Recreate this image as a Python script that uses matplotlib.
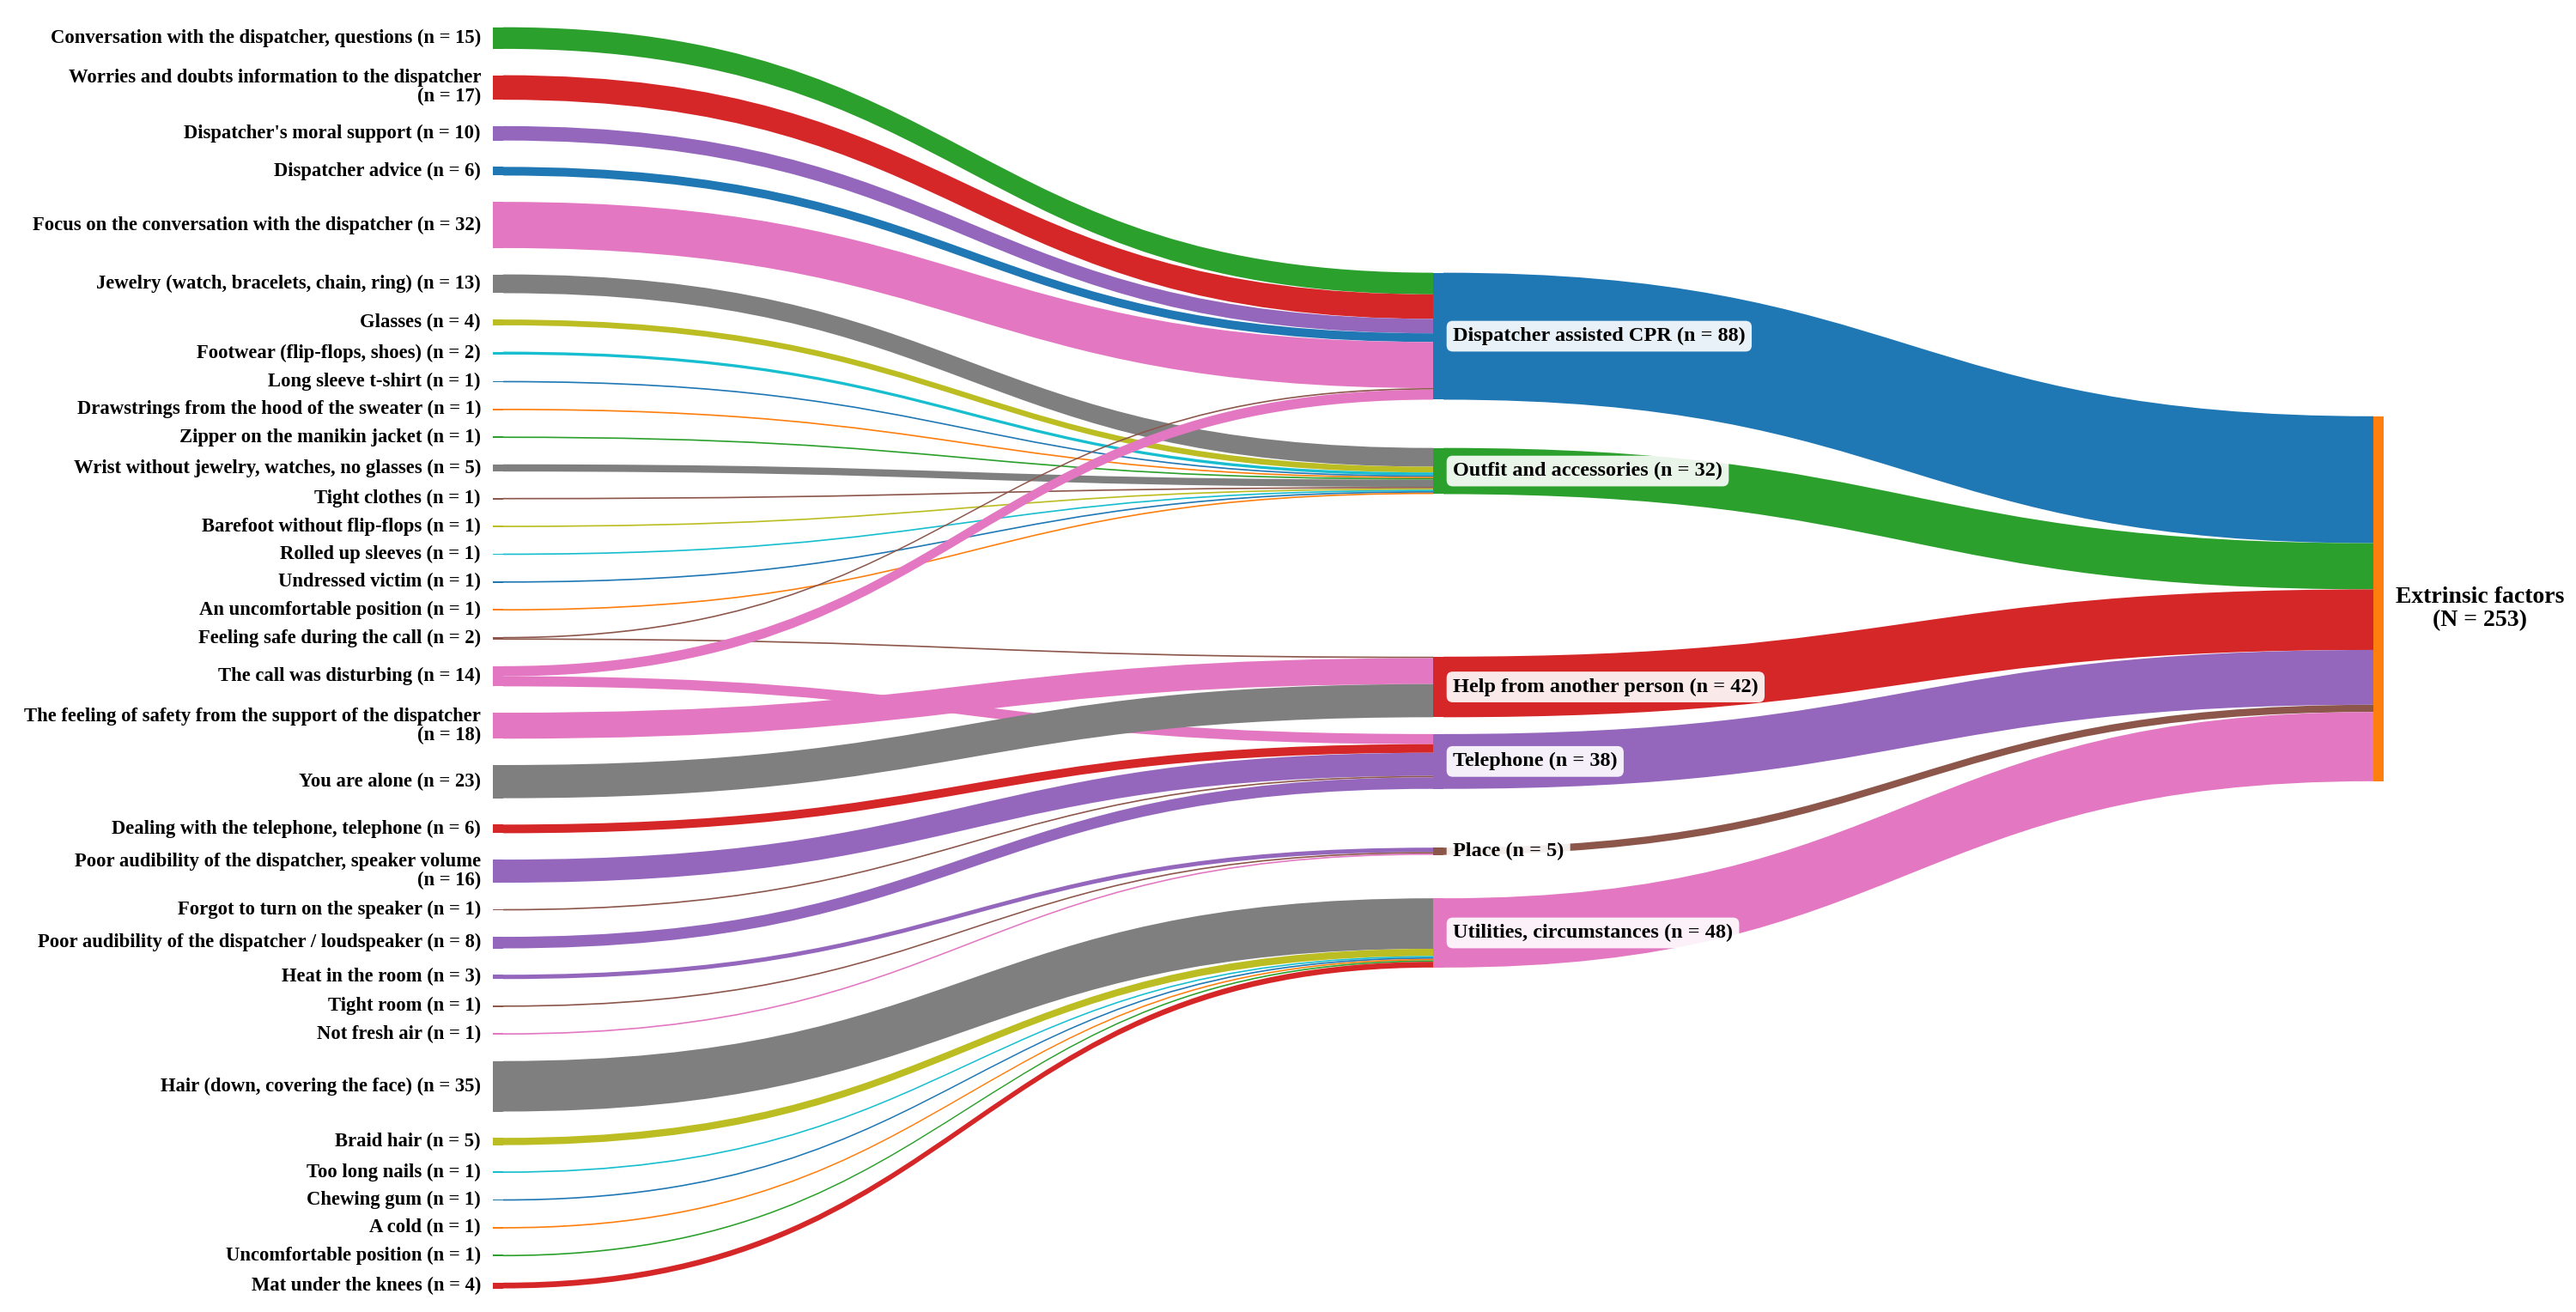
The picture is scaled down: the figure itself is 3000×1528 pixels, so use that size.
"""Sankey of extrinsic factors: sub-categories -> categories -> total."""
import matplotlib

matplotlib.use("Agg")
import matplotlib.pyplot as plt
import numpy as np
from matplotlib.patches import PathPatch, Rectangle
from matplotlib.path import Path

BLUE, ORANGE, GREEN, RED, PURPLE = "#1f77b4", "#ff7f0e", "#2ca02c", "#d62728", "#9467bd"
BROWN, PINK, GRAY, OLIVE, CYAN = "#8c564b", "#e377c2", "#7f7f7f", "#bcbd22", "#17becf"

# ---- data -------------------------------------------------------------
left_labels = [
    "Conversation with the dispatcher, questions",
    "Worries and doubts information to the dispatcher",
    "Dispatcher's moral support",
    "Dispatcher advice",
    "Focus on the conversation with the dispatcher",
    "Jewelry (watch, bracelets, chain, ring)",
    "Glasses",
    "Footwear (flip-flops, shoes)",
    "Long sleeve t-shirt",
    "Drawstrings from the hood of the sweater",
    "Zipper on the manikin jacket",
    "Wrist without jewelry, watches, no glasses",
    "Tight clothes",
    "Barefoot without flip-flops",
    "Rolled up sleeves",
    "Undressed victim",
    "An uncomfortable position",
    "Feeling safe during the call",
    "The call was disturbing",
    "The feeling of safety from the support of the dispatcher",
    "You are alone",
    "Dealing with the telephone, telephone",
    "Poor audibility of the dispatcher, speaker volume",
    "Forgot to turn on the speaker",
    "Poor audibility of the dispatcher / loudspeaker",
    "Heat in the room",
    "Tight room",
    "Not fresh air",
    "Hair (down, covering the face)",
    "Braid hair",
    "Too long nails",
    "Chewing gum",
    "A cold",
    "Uncomfortable position",
    "Mat under the knees",
]
left_colors = [
    GREEN, RED, PURPLE, BLUE, PINK, GRAY, OLIVE, CYAN, BLUE, ORANGE,
    GREEN, GRAY, BROWN, OLIVE, CYAN, BLUE, ORANGE, BROWN, PINK, PINK,
    GRAY, RED, PURPLE, BROWN, PURPLE, PURPLE, BROWN, PINK, GRAY, OLIVE,
    CYAN, BLUE, ORANGE, GREEN, RED,
]
# labels whose "(n = ..)" goes on a second line
wrapped_labels = {1, 19, 22}

mid_labels = [
    "Dispatcher assisted CPR",
    "Outfit and accessories",
    "Help from another person",
    "Telephone",
    "Place",
    "Utilities, circumstances",
]
mid_colors = [BLUE, GREEN, RED, PURPLE, BROWN, PINK]

right_label = "Extrinsic factors"
right_color = ORANGE

# links: left node index -> middle node index, value
link_src = [0, 1, 2, 3, 4, 5, 6, 7, 8, 9, 10, 11, 12, 13, 14, 15, 16, 17, 17,
            18, 18, 19, 20, 21, 22, 23, 24, 25, 26, 27, 28, 29, 30, 31, 32, 33, 34]
link_tgt = [0, 0, 0, 0, 0, 1, 1, 1, 1, 1, 1, 1, 1, 1, 1, 1, 1, 0, 2,
            0, 3, 2, 2, 3, 3, 3, 3, 4, 4, 4, 5, 5, 5, 5, 5, 5, 5]
link_val = [15, 17, 10, 6, 32, 13, 4, 2, 1, 1, 1, 5, 1, 1, 1, 1, 1, 1, 1,
            7, 7, 18, 23, 6, 16, 1, 8, 3, 1, 1, 35, 5, 1, 1, 1, 1, 4]

# ---- layout -----------------------------------------------------------
FIG_W, FIG_H = 3000, 1528
PX = 1.68            # pixels per respondent
NODE_W = 12
COL_X = (574, 1669, 2764)
LEFT_TOP = 31.7
LEFT_GAP = 30.7
FONT = "Liberation Serif"

n_left = len(left_labels)
n_mid = len(mid_labels)
left_val = np.zeros(n_left)
mid_val = np.zeros(n_mid)
for s, t, v in zip(link_src, link_tgt, link_val):
    left_val[s] += v
    mid_val[t] += v
total = left_val.sum()

left_h = left_val * PX
left_top = LEFT_TOP + np.concatenate([[0], np.cumsum(left_h)[:-1]]) + LEFT_GAP * np.arange(n_left)

# where each link leaves its left node
src_cursor = left_top.copy()
link_y0 = []
for s, v in zip(link_src, link_val):
    link_y0.append(src_cursor[s])
    src_cursor[s] += v * PX
link_y0 = np.array(link_y0)
link_c0 = link_y0 + np.array(link_val) * PX / 2

# right node centred on the flow-weighted mean of the left side
right_h = total * PX
right_center = np.sum(np.array(link_val) * link_c0) / total
right_top = right_center - right_h / 2
mid_h = mid_val * PX
right_band_top = right_top + np.concatenate([[0], np.cumsum(mid_h)[:-1]])

# middle nodes: halfway between incoming-flow mean and their band on the right
mid_top = np.zeros(n_mid)
for k in range(n_mid):
    sel = [i for i, t in enumerate(link_tgt) if t == k]
    w = np.array([link_val[i] for i in sel])
    left_mean = np.sum(w * link_c0[sel]) / w.sum()
    right_c = right_band_top[k] + mid_h[k] / 2
    mid_top[k] = 0.5 * (left_mean + right_c) - mid_h[k] / 2

tgt_cursor = mid_top.copy()
link_y1 = []
for t, v in zip(link_tgt, link_val):
    link_y1.append(tgt_cursor[t])
    tgt_cursor[t] += v * PX


def band(ax, x0, y0, x1, y1, h, color, z=1):
    xm = (x0 + x1) / 2
    verts = [(x0, y0), (xm, y0), (xm, y1), (x1, y1),
             (x1, y1 + h), (xm, y1 + h), (xm, y0 + h), (x0, y0 + h), (x0, y0)]
    codes = [Path.MOVETO, Path.CURVE4, Path.CURVE4, Path.CURVE4,
             Path.LINETO, Path.CURVE4, Path.CURVE4, Path.CURVE4, Path.CLOSEPOLY]
    ax.add_patch(PathPatch(Path(verts, codes), facecolor=color, edgecolor="none", lw=0, zorder=z))


fig = plt.figure(figsize=(FIG_W / 100, FIG_H / 100), dpi=100)
ax = fig.add_axes([0, 0, 1, 1])
ax.set_xlim(0, FIG_W)
ax.set_ylim(FIG_H, 0)
ax.axis("off")

# left -> middle flows
for i, (s, t, v) in enumerate(zip(link_src, link_tgt, link_val)):
    band(ax, COL_X[0] + NODE_W, link_y0[i], COL_X[1], link_y1[i], v * PX, left_colors[s], z=1)

# middle -> right flows
for k in range(n_mid):
    band(ax, COL_X[1] + NODE_W, mid_top[k], COL_X[2], right_band_top[k], mid_h[k], mid_colors[k], z=1)

# nodes
for i in range(n_left):
    ax.add_patch(Rectangle((COL_X[0], left_top[i]), NODE_W, left_h[i], facecolor=left_colors[i],
                           edgecolor="none", zorder=2))
    text = f"{left_labels[i]}" + ("\n" if i in wrapped_labels else " ") + f"(n = {int(left_val[i])})"
    ax.text(COL_X[0] - 14, left_top[i] + left_h[i] / 2, text, ha="right", va="center",
            multialignment="right", linespacing=1.05, fontsize=16.3, fontweight="bold",
            family=FONT, zorder=3)

for k in range(n_mid):
    ax.add_patch(Rectangle((COL_X[1], mid_top[k]), NODE_W, mid_h[k], facecolor=mid_colors[k],
                           edgecolor="none", zorder=2))
    ax.text(COL_X[1] + NODE_W + 11, mid_top[k] + mid_h[k] / 2, f"{mid_labels[k]} (n = {int(mid_val[k])})",
            ha="left", va="center", fontsize=17.5, fontweight="bold", family=FONT, zorder=4,
            bbox=dict(boxstyle="round,pad=0.3", facecolor="white", edgecolor="none", alpha=0.9))

ax.add_patch(Rectangle((COL_X[2], right_top), NODE_W, right_h, facecolor=right_color,
                       edgecolor="none", zorder=2))
ax.text(COL_X[2] + NODE_W + 14, right_center + 12, f"{right_label}\n(N = {int(total)})",
        ha="left", va="center", multialignment="center", linespacing=1.1,
        fontsize=20, fontweight="bold", family=FONT, zorder=3)

fig.savefig("out.png", dpi=100)
plt.close(fig)
